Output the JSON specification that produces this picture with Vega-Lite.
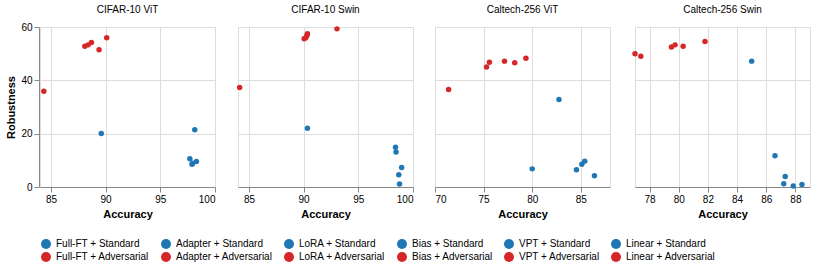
{
  "$schema": "https://vega.github.io/schema/vega-lite/v6.json",
  "data": {
    "values": [
      {"panel": "CIFAR-10 ViT", "label": "Full-FT + Standard", "acc": 97.9, "rob": 8.5},
      {"panel": "CIFAR-10 ViT", "label": "Full-FT + Adversarial", "acc": 89.4, "rob": 51.5},
      {"panel": "CIFAR-10 ViT", "label": "Adapter + Standard", "acc": 97.95, "rob": 8.9},
      {"panel": "CIFAR-10 ViT", "label": "Adapter + Adversarial", "acc": 88.1, "rob": 52.8},
      {"panel": "CIFAR-10 ViT", "label": "LoRA + Standard", "acc": 98.15, "rob": 21.5},
      {"panel": "CIFAR-10 ViT", "label": "LoRA + Adversarial", "acc": 90.1, "rob": 56.0},
      {"panel": "CIFAR-10 ViT", "label": "Bias + Standard", "acc": 98.3, "rob": 9.6},
      {"panel": "CIFAR-10 ViT", "label": "Bias + Adversarial", "acc": 88.4, "rob": 53.3},
      {"panel": "CIFAR-10 ViT", "label": "VPT + Standard", "acc": 97.7, "rob": 10.6},
      {"panel": "CIFAR-10 ViT", "label": "VPT + Adversarial", "acc": 88.7, "rob": 54.2},
      {"panel": "CIFAR-10 ViT", "label": "Linear + Standard", "acc": 89.6, "rob": 20.1},
      {"panel": "CIFAR-10 ViT", "label": "Linear + Adversarial", "acc": 84.35, "rob": 35.9},
      {"panel": "CIFAR-10 Swin", "label": "Full-FT + Standard", "acc": 98.77, "rob": 1.1},
      {"panel": "CIFAR-10 Swin", "label": "Full-FT + Adversarial", "acc": 93.05, "rob": 59.3},
      {"panel": "CIFAR-10 Swin", "label": "Adapter + Standard", "acc": 98.7, "rob": 4.6},
      {"panel": "CIFAR-10 Swin", "label": "Adapter + Adversarial", "acc": 90.2, "rob": 56.0},
      {"panel": "CIFAR-10 Swin", "label": "LoRA + Standard", "acc": 98.45, "rob": 13.1},
      {"panel": "CIFAR-10 Swin", "label": "LoRA + Adversarial", "acc": 90.05, "rob": 55.6},
      {"panel": "CIFAR-10 Swin", "label": "Bias + Standard", "acc": 98.96, "rob": 7.3},
      {"panel": "CIFAR-10 Swin", "label": "Bias + Adversarial", "acc": 90.3, "rob": 56.8},
      {"panel": "CIFAR-10 Swin", "label": "VPT + Standard", "acc": 98.4, "rob": 14.9},
      {"panel": "CIFAR-10 Swin", "label": "VPT + Adversarial", "acc": 90.35, "rob": 57.5},
      {"panel": "CIFAR-10 Swin", "label": "Linear + Standard", "acc": 90.35, "rob": 22.0},
      {"panel": "CIFAR-10 Swin", "label": "Linear + Adversarial", "acc": 84.15, "rob": 37.3},
      {"panel": "Caltech-256 ViT", "label": "Full-FT + Standard", "acc": 80.0, "rob": 6.8},
      {"panel": "Caltech-256 ViT", "label": "Full-FT + Adversarial", "acc": 71.4, "rob": 36.6},
      {"panel": "Caltech-256 ViT", "label": "Adapter + Standard", "acc": 85.4, "rob": 9.7},
      {"panel": "Caltech-256 ViT", "label": "Adapter + Adversarial", "acc": 78.2, "rob": 46.6},
      {"panel": "Caltech-256 ViT", "label": "LoRA + Standard", "acc": 84.55, "rob": 6.5},
      {"panel": "Caltech-256 ViT", "label": "LoRA + Adversarial", "acc": 75.3, "rob": 45.0},
      {"panel": "Caltech-256 ViT", "label": "Bias + Standard", "acc": 86.4, "rob": 4.2},
      {"panel": "Caltech-256 ViT", "label": "Bias + Adversarial", "acc": 77.15, "rob": 47.2},
      {"panel": "Caltech-256 ViT", "label": "VPT + Standard", "acc": 85.1, "rob": 8.5},
      {"panel": "Caltech-256 ViT", "label": "VPT + Adversarial", "acc": 75.6, "rob": 46.8},
      {"panel": "Caltech-256 ViT", "label": "Linear + Standard", "acc": 82.75, "rob": 32.8},
      {"panel": "Caltech-256 ViT", "label": "Linear + Adversarial", "acc": 79.35, "rob": 48.3},
      {"panel": "Caltech-256 Swin", "label": "Full-FT + Standard", "acc": 87.85, "rob": 0.4},
      {"panel": "Caltech-256 Swin", "label": "Full-FT + Adversarial", "acc": 77.4, "rob": 49.0},
      {"panel": "Caltech-256 Swin", "label": "Adapter + Standard", "acc": 87.3, "rob": 3.9},
      {"panel": "Caltech-256 Swin", "label": "Adapter + Adversarial", "acc": 80.3, "rob": 52.8},
      {"panel": "Caltech-256 Swin", "label": "LoRA + Standard", "acc": 87.2, "rob": 1.2},
      {"panel": "Caltech-256 Swin", "label": "LoRA + Adversarial", "acc": 77.0, "rob": 50.0},
      {"panel": "Caltech-256 Swin", "label": "Bias + Standard", "acc": 88.45, "rob": 0.9},
      {"panel": "Caltech-256 Swin", "label": "Bias + Adversarial", "acc": 79.5, "rob": 52.5},
      {"panel": "Caltech-256 Swin", "label": "VPT + Standard", "acc": 86.6, "rob": 11.7},
      {"panel": "Caltech-256 Swin", "label": "VPT + Adversarial", "acc": 79.75, "rob": 53.3},
      {"panel": "Caltech-256 Swin", "label": "Linear + Standard", "acc": 85.0, "rob": 47.2},
      {"panel": "Caltech-256 Swin", "label": "Linear + Adversarial", "acc": 81.8, "rob": 54.6}
    ]
  },
  "facet": {"column": {"field": "panel", "type": "nominal", "title": null, "sort": ["CIFAR-10 ViT", "CIFAR-10 Swin", "Caltech-256 ViT", "Caltech-256 Swin"]}},
  "resolve": {"scale": {"x": "independent"}},
  "spec": {
    "width": 175, "height": 160,
    "mark": {"type": "point", "filled": true, "opacity": 1},
    "encoding": {
      "x": {"field": "acc", "type": "quantitative", "title": "Accuracy", "scale": {"zero": false}},
      "y": {"field": "rob", "type": "quantitative", "title": "Robustness"},
      "color": {"field": "label", "type": "nominal", "scale": {"domain": ["Full-FT + Standard", "Adapter + Standard", "LoRA + Standard", "Bias + Standard", "VPT + Standard", "Linear + Standard", "Full-FT + Adversarial", "Adapter + Adversarial", "LoRA + Adversarial", "Bias + Adversarial", "VPT + Adversarial", "Linear + Adversarial"], "range": ["#1f77b4", "#1f77b4", "#1f77b4", "#1f77b4", "#1f77b4", "#1f77b4", "#d62728", "#d62728", "#d62728", "#d62728", "#d62728", "#d62728"]}, "legend": {"title": null, "orient": "bottom", "columns": 6}}
    }
  }
}
